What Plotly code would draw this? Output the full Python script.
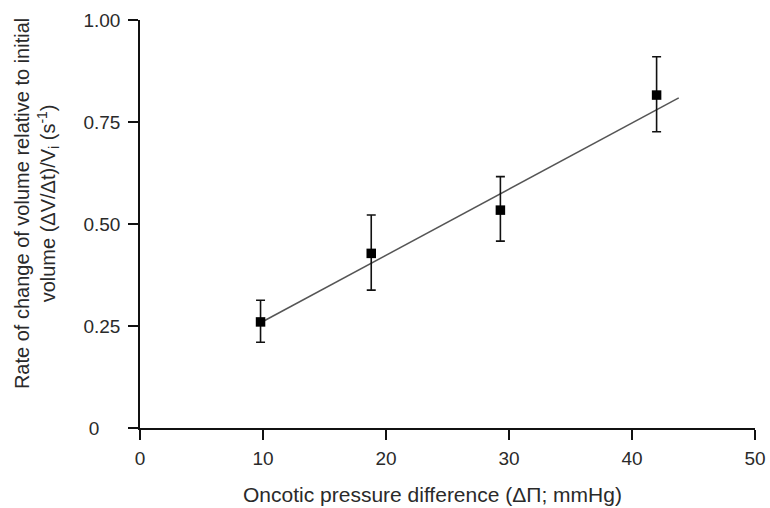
import plotly.graph_objects as go

# Data
pressure_diff = [9.8, 18.8, 29.3, 42.0]          # mmHg
rate = [0.260, 0.428, 0.534, 0.816]              # s^-1
err_plus = [0.053, 0.094, 0.082, 0.094]
err_minus = [0.050, 0.090, 0.076, 0.090]

# Regression line end points
fit_x = [9.8, 43.8]
fit_y = [0.258, 0.809]

x_ticks = [0, 10, 20, 30, 40, 50]
y_ticks = [0, 0.25, 0.5, 0.75, 1.0]
y_ticktext = ["0\u2007\u2007", "0.25", "0.50", "0.75", "1.00"]

FONT = "Liberation Sans, Arial, Helvetica, sans-serif"
TXT = "#2a2a2a"

fig = go.Figure()
fig.add_trace(go.Scatter(
    x=fit_x, y=fit_y, mode="lines",
    line=dict(color="#555555", width=1.5),
    hoverinfo="skip", showlegend=False,
))
fig.add_trace(go.Scatter(
    x=pressure_diff, y=rate, mode="markers",
    marker=dict(symbol="square", size=9.5, color="black"),
    error_y=dict(type="data", symmetric=False, array=err_plus, arrayminus=err_minus,
                 color="#111111", thickness=1.6, width=4.5),
    showlegend=False,
))

fig.update_layout(
    width=770, height=508,
    margin=dict(l=140, r=15, t=20, b=80),
    paper_bgcolor="white", plot_bgcolor="white",
    font=dict(family=FONT, size=19, color=TXT),
    xaxis=dict(range=[0, 50], tickvals=x_ticks, showgrid=False, zeroline=False,
               showline=True, linecolor="#111111", linewidth=1.5,
               ticks="outside", ticklen=10, tickwidth=1.5, tickcolor="#111111",
               tickfont=dict(size=19, color=TXT), automargin=False,
               ticklabelstandoff=2),
    yaxis=dict(range=[0, 1.0], tickvals=y_ticks, ticktext=y_ticktext,
               showgrid=False, zeroline=False,
               showline=True, linecolor="#111111", linewidth=1.5,
               ticks="outside", ticklen=10, tickwidth=1.5, tickcolor="#111111",
               tickfont=dict(size=19, color=TXT), automargin=False,
               ticklabelstandoff=4),
    annotations=[
        dict(text="Oncotic pressure difference (ΔΠ; mmHg)",
             xref="paper", yref="paper", x=0.475, y=-0.162,
             xanchor="center", yanchor="middle", showarrow=False,
             font=dict(size=21, color=TXT)),
        dict(text="Rate of change of volume relative to initial<br>volume (ΔV/Δt)/V<sub>i</sub> (s<sup>-1</sup>)",
             xref="paper", yref="paper", x=-0.169, y=0.549, textangle=-90,
             xanchor="center", yanchor="middle", showarrow=False,
             font=dict(size=20, color=TXT)),
    ],
)

fig.write_html(
    "out.html",
    config={"displayModeBar": False},
    post_script="document.body.style.margin='0';document.body.style.overflow='hidden';",
)
